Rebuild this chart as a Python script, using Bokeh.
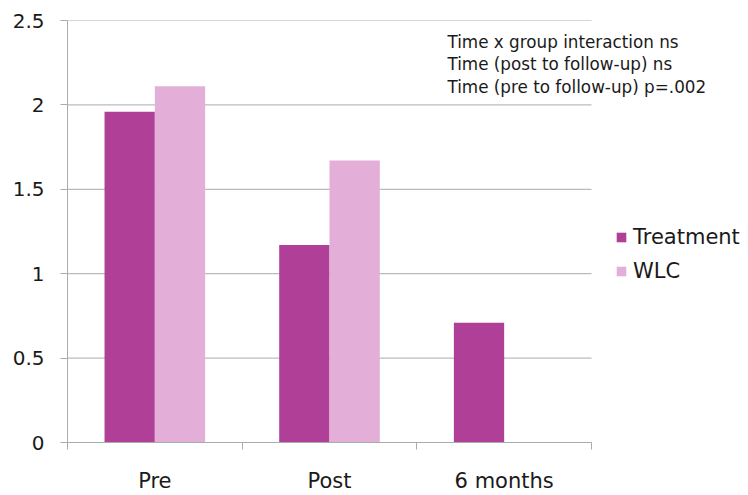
from bokeh.plotting import figure
from bokeh.models import (Range1d, FixedTicker, Legend, LegendItem, Label,
                          ColumnDataSource)
from bokeh.embed import file_html
from bokeh.resources import INLINE

# ---- data ----
categories = ["Pre", "Post", "6 months"]
treatment = [1.96, 1.17, 0.71]
wlc = [2.11, 1.67, None]
y_ticks = [0, 0.5, 1, 1.5, 2, 2.5]
y_tick_labels = ["0", "0.5", "1", "1.5", "2", "2.5"]
notes = ["Time x group interaction ns",
         "Time (post to follow-up) ns",
         "Time (pre to follow-up) p=.002"]
series_names = ["Treatment", "WLC"]

FONT = "DejaVu Sans"
C_TREAT = "#B03F98"
C_WLC = "#E3AED8"
GRID = "#ABABAB"
TXT = "#1a1a1a"

n = len(categories)
centers = [i + 0.5 for i in range(n)]
bw = 0.288

# frame spans to the right edge of the page so that legend/notes are not clipped;
# the category area occupies 524 of the 681 frame pixels
x_end = n * 681.0 / 524.0

src_t = ColumnDataSource(dict(x=[c - bw / 2 for c in centers], top=treatment))
wx = [c + bw / 2 for c, v in zip(centers, wlc) if v is not None]
wt = [v for v in wlc if v is not None]
src_w = ColumnDataSource(dict(x=wx, top=wt))
src_g = ColumnDataSource(dict(x0=[0] * len(y_ticks), x1=[n] * len(y_ticks),
                              y=y_ticks))

p = figure(width=748, height=495, output_backend="svg", toolbar_location=None,
           x_range=Range1d(0, x_end), y_range=Range1d(0, 2.5),
           min_border_left=67, min_border_right=0, min_border_top=20,
           min_border_bottom=52)
p.outline_line_color = None
p.background_fill_color = "white"

p.segment(x0="x0", x1="x1", y0="y", y1="y", source=src_g,
          line_color=GRID, line_width=1, level="underlay")

r1 = p.vbar(x="x", top="top", width=bw, bottom=0, source=src_t,
            fill_color=C_TREAT, line_color=None)
r2 = p.vbar(x="x", top="top", width=bw, bottom=0, source=src_w,
            fill_color=C_WLC, line_color=None)

# x axis: labels at category centres, ticks at boundaries
xa = p.xaxis[0]
xa.bounds = (0, n)
xa.ticker = FixedTicker(ticks=centers, minor_ticks=list(range(n + 1)))
xa.major_label_overrides = {c: lab for c, lab in zip(centers, categories)}
xa.major_tick_line_color = None
xa.minor_tick_line_color = GRID
xa.minor_tick_out = 7
xa.minor_tick_in = 0
xa.axis_line_color = GRID
xa.major_label_text_font = FONT
xa.major_label_text_font_size = "21px"
xa.major_label_text_color = TXT
xa.major_label_standoff = 19

ya = p.yaxis[0]
ya.ticker = FixedTicker(ticks=y_ticks)
ya.major_label_overrides = {t: lab for t, lab in zip(y_ticks, y_tick_labels)}
ya.major_tick_line_color = GRID
ya.major_tick_out = 7
ya.major_tick_in = 0
ya.minor_tick_line_color = None
ya.axis_line_color = GRID
ya.major_label_text_font = FONT
ya.major_label_text_font_size = "20px"
ya.major_label_text_color = TXT
ya.major_label_standoff = 16

p.xgrid.grid_line_color = None
p.ygrid.grid_line_color = None

legend = Legend(items=[LegendItem(label=series_names[0], renderers=[r1]),
                       LegendItem(label=series_names[1], renderers=[r2])],
                location=(548, 159), padding=0, margin=0, spacing=10,
                glyph_width=12, glyph_height=12, label_standoff=6,
                border_line_color=None, background_fill_alpha=0,
                label_text_font=FONT, label_text_font_size="21px",
                label_text_color=TXT)
p.add_layout(legend)

for i, t in enumerate(notes):
    p.add_layout(Label(x=2.175, y=2.375 - i * 0.134, text=t,
                       text_font=FONT, text_font_size="16.8px",
                       text_color=TXT, text_baseline="alphabetic"))

open("out.html", "w").write(file_html(p, INLINE))
